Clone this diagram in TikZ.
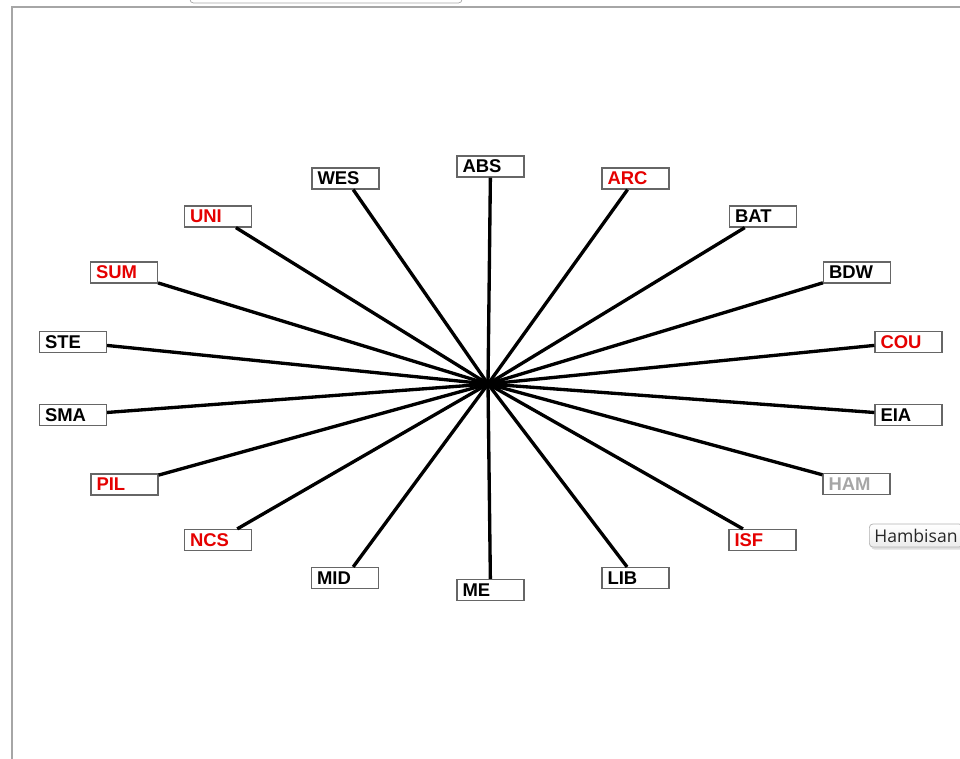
\documentclass[tikz,border=0pt]{standalone}
\usepackage{fontspec}
\setmainfont{Liberation Sans}
\newfontfamily\tipfont{Open Sans}
\usetikzlibrary{shadows}
\begin{document}
\begin{tikzpicture}[x=0.02cm,y=-0.02cm,
    box/.style={draw=black!60,line width=0.7pt,fill=white,
      font=\bfseries\fontsize{10.5}{12}\selectfont,text width=1.12cm,align=left,
      inner xsep=0.11cm,inner ysep=0pt,minimum height=0.42cm},
    hot/.style={box,text=red!90!black},
    dim/.style={box,text=gray!70},
    spoke/.style={line width=1.9pt},
    tip/.style={draw=gray!60,rounded corners=2pt,top color=white,bottom color=gray!15,
      drop shadow={opacity=0.25,shadow xshift=1pt,shadow yshift=-1.5pt},
      font=\tipfont\fontsize{10}{12}\selectfont,text=gray!30!black,
      inner xsep=0.1cm,inner ysep=0pt,minimum height=0.46cm,anchor=west}]
      \useasboundingbox (0,0) rectangle (960,758);
      \draw[gray!70,line width=1.2pt] (12,760) -- (12,7) -- (962,7);
      \draw[gray!70,rounded corners=2pt] (190,-10) rectangle (462,3);
      \coordinate (hub) at (488,384);
      \draw
        (490.5,166.5) node[box] (abs){ABS}
        (635.5,178.5) node[hot] (arc){ARC}
        (763,216.5) node[box] (bat){BAT}
        (857,272.5) node[box] (bdw){BDW}
        (908.5,342) node[hot] (cou){COU}
        (908.5,415) node[box] (eia){EIA}
        (856.5,484) node[dim] (ham){HAM}
        (762.5,540) node[hot] (isf){ISF}
        (635.5,578) node[box] (lib){LIB}
        (490.5,590) node[box] (me){ME}
        (345,578) node[box] (mid){MID}
        (218,540) node[hot] (ncs){NCS}
        (124.5,484.5) node[hot] (pil){PIL}
        (73,415) node[box] (sma){SMA}
        (73,342) node[box] (ste){STE}
        (124,272.5) node[hot] (sum){SUM}
        (218,216.5) node[hot] (uni){UNI}
        (345.5,178.5) node[box] (wes){WES};
      \begin{scope}[spoke]
        \draw (hub) to (abs);
        \draw (hub) to (arc);
        \draw (hub) to (bat);
        \draw (hub) to (bdw);
        \draw (hub) to (cou);
        \draw (hub) to (eia);
        \draw (hub) to (ham);
        \draw (hub) to (isf);
        \draw (hub) to (lib);
        \draw (hub) to (me);
        \draw (hub) to (mid);
        \draw (hub) to (ncs);
        \draw (hub) to (pil);
        \draw (hub) to (sma);
        \draw (hub) to (ste);
        \draw (hub) to (sum);
        \draw (hub) to (uni);
        \draw (hub) to (wes);
      \end{scope}
      \node[tip] (hamtip) at (869,535.5) {Hambisan};
    \end{tikzpicture}
\end{document}
